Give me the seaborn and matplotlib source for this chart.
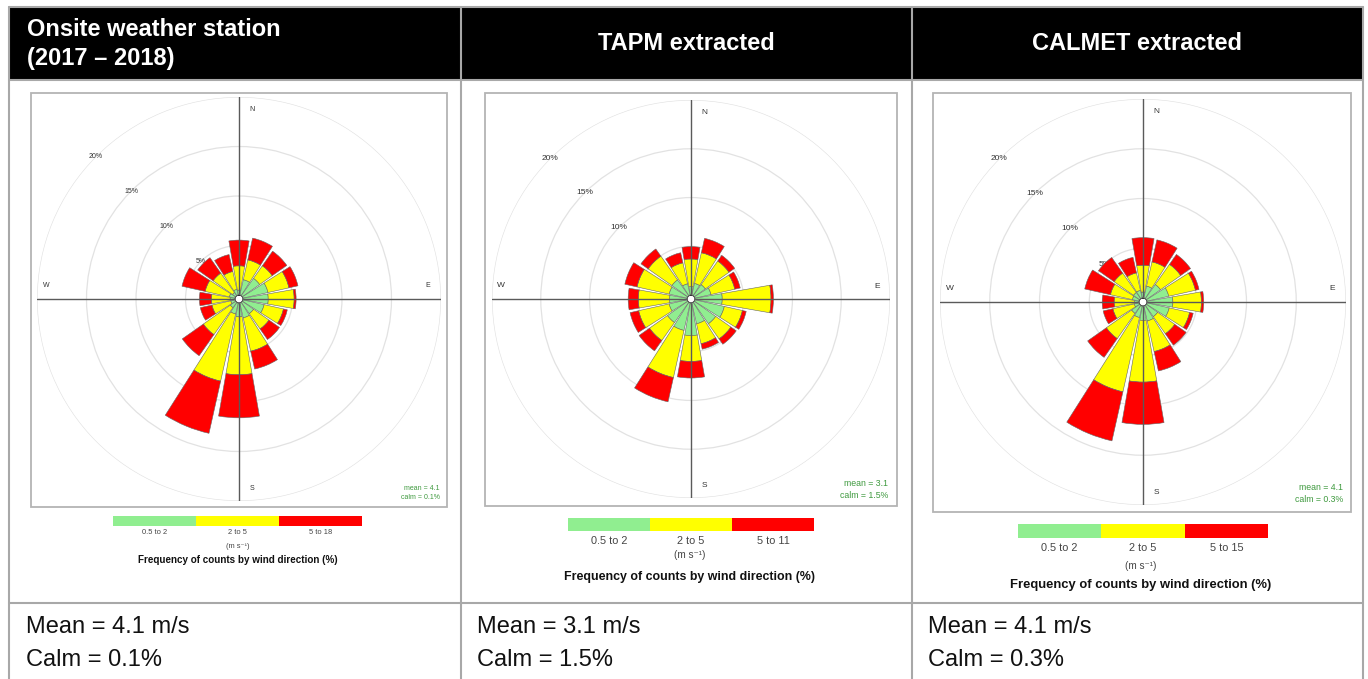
import numpy as np
import matplotlib
matplotlib.use("Agg")
import matplotlib.pyplot as plt
from matplotlib.colors import ListedColormap
from matplotlib.patches import Rectangle
import seaborn as sns

# ---------------- data ----------------
directions = ["N", "NNE", "NE", "ENE", "E", "ESE", "SE", "SSE",
              "S", "SSW", "SW", "WSW", "W", "WNW", "NW", "NNW"]
direction_deg = [0, 22.5, 45, 67.5, 90, 112.5, 135, 157.5,
                 180, 202.5, 225, 247.5, 270, 292.5, 315, 337.5]

titles = ["Onsite weather station\n(2017 \u2013 2018)", "TAPM extracted", "CALMET extracted"]

onsite_bins = ["0.5 to 2", "2 to 5", "5 to 18"]
tapm_bins = ["0.5 to 2", "2 to 5", "5 to 11"]
calmet_bins = ["0.5 to 2", "2 to 5", "5 to 15"]

# frequency (%) per direction for each speed band
onsite_low = [0.5, 1.6, 2.15, 2.6, 2.55, 2.2, 1.4, 1.55, 1.4, 1.15, 0.67, 0.45, 0.5, 0.6, 0.4, 0.6]
onsite_mid = [2.45, 2.05, 1.55, 2.17, 2.62, 2.0, 1.9, 3.45, 5.85, 6.95, 3.33, 1.95, 1.9, 2.5, 2.4, 1.85]
onsite_high = [2.6, 2.25, 1.8, 0.93, 0.2, 0.4, 1.3, 1.85, 4.35, 5.4, 2.6, 1.2, 1.2, 2.4, 1.9, 1.75]

tapm_low = [0.87, 1.24, 1.4, 1.7, 2.8, 3.1, 2.7, 2.2, 3.35, 2.9, 2.55, 1.9, 1.8, 1.9, 2.0, 1.2]
tapm_mid = [2.83, 3.22, 2.96, 2.5, 5.0, 1.9, 1.9, 2.1, 2.65, 4.95, 2.25, 3.2, 3.2, 3.37, 2.97, 2.2]
tapm_high = [1.27, 1.51, 0.71, 0.57, 0.25, 0.4, 0.67, 0.57, 1.7, 2.55, 1.3, 0.9, 1.04, 1.28, 0.9, 1.06]

calmet_low = [0.6, 1.24, 1.75, 2.25, 2.6, 2.3, 1.4, 1.55, 1.45, 1.2, 1.0, 0.5, 0.45, 0.7, 0.77, 0.8]
calmet_mid = [2.7, 2.49, 2.48, 2.75, 2.87, 2.1, 2.1, 3.15, 6.2, 7.65, 3.1, 2.2, 2.05, 2.25, 2.38, 1.8]
calmet_high = [2.77, 2.27, 1.21, 0.37, 0.23, 0.37, 1.4, 2.0, 4.25, 5.05, 2.3, 1.0, 1.2, 2.65, 1.92, 1.6]

means = [4.1, 3.1, 4.1]
calms = [0.1, 1.5, 0.3]
ring_levels = [5, 10, 15, 20]

# ---------------- style ----------------
sns.set_style("white")
plt.rcParams["font.family"] = ["Liberation Sans", "DejaVu Sans"]

GREEN, YELLOW, RED = "#90ee90", "#ffff00", "#ff0000"
GRID = "#e2e2e2"
BORDER = "#a8a8a8"
STAT = "#3f9a3f"

W_PX, H_PX = 1368, 679
fig = plt.figure(figsize=(W_PX / 100, H_PX / 100), dpi=100)
fig.patch.set_facecolor("white")

ax0 = fig.add_axes([0, 0, 1, 1])
ax0.set_xlim(0, W_PX)
ax0.set_ylim(H_PX, 0)
ax0.axis("off")

# table
left, right, top, head_b, foot_t = 9, 1363, 7, 80, 603
col_x = [9, 461, 912, 1363]
ax0.add_patch(Rectangle((left, top), right - left, head_b - top, fc="black", ec="none", zorder=1))
for x in col_x:
    ax0.plot([x, x], [top, H_PX + 5], color=BORDER, lw=1.5, zorder=2)
for y in [top, head_b, foot_t]:
    ax0.plot([left, right], [y, y], color=BORDER, lw=1.5, zorder=2)

ax0.text(27, 44, titles[0], color="white", fontsize=17, fontweight="bold",
         ha="left", va="center", linespacing=1.3, zorder=3)
ax0.text(686, 44, titles[1], color="white", fontsize=17, fontweight="bold",
         ha="center", va="center", zorder=3)
ax0.text(1137, 44, titles[2], color="white", fontsize=17, fontweight="bold",
         ha="center", va="center", zorder=3)

foot_x = [26, 477, 928]
for i in range(3):
    ax0.text(foot_x[i], 627, f"Mean = {means[i]} m/s", fontsize=17, ha="left", va="center",
             color="#111111")
    ax0.text(foot_x[i], 660, f"Calm = {calms[i]}%", fontsize=17, ha="left", va="center",
             color="#111111")

# panel frames
frames = [(31, 93, 416, 414), (485, 93, 412, 413), (933, 93, 418, 419)]
for fx, fy, fw, fh in frames:
    ax0.add_patch(Rectangle((fx, fy), fw, fh, fill=False, ec="#b4b4b4", lw=1.3, zorder=2))


def add_rose(cx, cy, rad, low, mid, high, lab_fs, stat_fs, stat_right, stat_y, mean, calm):
    ax = fig.add_axes([(cx - rad) / W_PX, (H_PX - cy - rad) / H_PX,
                       2 * rad / W_PX, 2 * rad / H_PX], projection="polar")
    ax.set_facecolor("none")
    ax.set_theta_zero_location("N")
    ax.set_theta_direction(-1)
    ax.set_ylim(0, 20)
    ax.set_rorigin(-0.4)
    ax.spines["polar"].set_visible(False)
    ax.set_xticks([])
    ax.set_rgrids(ring_levels, labels=[""] * len(ring_levels))
    ax.yaxis.grid(True, color=GRID, lw=0.9)
    ax.xaxis.grid(False)
    ax.tick_params(axis="y", length=0)

    theta = np.deg2rad(direction_deg)
    width = np.deg2rad(19.8)
    low = np.array(low)
    mid = np.array(mid)
    high = np.array(high)
    for v in ring_levels:
        ax.text(np.deg2rad(315), v, f"{v}%", fontsize=lab_fs, color="#333333",
                ha="center", va="center", zorder=1)
    kw = dict(edgecolor="#666666", linewidth=0.4, zorder=3)
    ax.bar(theta, low, width=width, bottom=0, color=GREEN, **kw)
    ax.bar(theta, mid, width=width, bottom=low, color=YELLOW, **kw)
    ax.bar(theta, high, width=width, bottom=low + mid, color=RED, **kw)

    for t in [0, 90, 180, 270]:
        ax.axvline(np.deg2rad(t), color="#5a5a5a", lw=1.0, zorder=4)
    circ = np.linspace(0, 2 * np.pi, 120)
    ax.plot(circ, np.zeros_like(circ), color="#666666", lw=0.8, zorder=5)

    for lab, ang, r in [("N", 4, 18.8), ("E", 86, 18.7), ("S", 176, 18.8), ("W", 274, 19.1)]:
        ax.text(np.deg2rad(ang), r, lab, fontsize=lab_fs, color="#333333",
                ha="center", va="center", zorder=6)

    ax0.text(stat_right, stat_y, f"mean = {mean}", color=STAT, fontsize=stat_fs,
             ha="right", va="center", zorder=6)
    ax0.text(stat_right, stat_y + stat_fs * 1.75, f"calm = {calm}%", color=STAT,
             fontsize=stat_fs, ha="right", va="center", zorder=6)
    return ax


add_rose(239, 299, 202, onsite_low, onsite_mid, onsite_high, 5, 5, 440, 489, means[0], calms[0])
add_rose(691, 299, 199, tapm_low, tapm_mid, tapm_high, 6, 6.3, 888, 484, means[1], calms[1])
add_rose(1143, 302, 203, calmet_low, calmet_mid, calmet_high, 6, 6.3, 1343, 488, means[2], calms[2])

# legends drawn as seaborn heatmaps
cmap = ListedColormap([GREEN, YELLOW, RED])


def add_legend(x0, x1, y0, y1, labels, tick_fs, pad, unit_y, unit_fs, title_y, title_fs, xc):
    axl = fig.add_axes([x0 / W_PX, (H_PX - y1) / H_PX, (x1 - x0) / W_PX, (y1 - y0) / H_PX])
    sns.heatmap(np.array([[0, 1, 2]]), cmap=cmap, vmin=-0.5, vmax=2.5, cbar=False,
                xticklabels=labels, yticklabels=False, ax=axl)
    axl.tick_params(axis="x", length=0, labelsize=tick_fs, labelcolor="#444444", pad=pad, rotation=0)
    axl.set_xlabel("")
    axl.set_ylabel("")
    ax0.text(xc, unit_y, "(m s\u207b\u00b9)", fontsize=unit_fs, color="#444444",
             ha="center", va="center")
    ax0.text(xc, title_y, "Frequency of counts by wind direction (%)", fontsize=title_fs,
             fontweight="bold", color="#111111", ha="center", va="center")


add_legend(113, 362, 516, 526, onsite_bins, 5.4, 2.0, 547, 5.4, 560, 7.1, 238)
add_legend(568, 814, 518, 531, tapm_bins, 7.8, 3.5, 555, 7.2, 577, 8.9, 690)
add_legend(1018, 1268, 524, 538, calmet_bins, 7.8, 3.5, 566, 7.2, 585, 9.4, 1141)

fig.savefig("out.png", dpi=100, facecolor="white")
